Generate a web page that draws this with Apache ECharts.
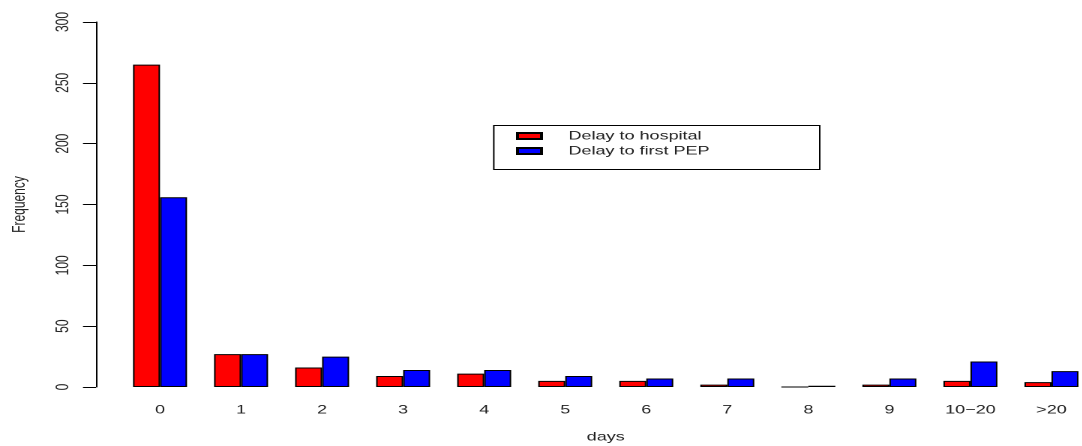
<!DOCTYPE html>
<html><head><meta charset="utf-8">
<script src="https://cdn.jsdelivr.net/npm/echarts@6/dist/echarts.min.js"></script>
<style>
html,body{margin:0;padding:0;background:#fff;overflow:hidden;}
#wrap{width:1082px;height:446px;overflow:hidden;}
#c{width:721.33px;height:446px;transform:scaleX(1.5);transform-origin:0 0;}
</style>
</head><body><div id="wrap"><div id="c"></div></div>
<script>
const categories = ['0','1','2','3','4','5','6','7','8','9','10\u221220','>20'];
const delayHospital = [265, 27, 16, 9, 11, 5, 5, 2, 0, 2, 5, 4];
const delayFirstPEP = [156, 27, 25, 14, 14, 9, 7, 7, 1, 7, 21, 13];
const yTicks = [0, 300, 50];
const seriesNames = ['Delay to hospital', 'Delay to first PEP'];

// The reference image is stretched horizontally (x 1.5); the chart is laid out
// in unstretched coordinates and the container is scaled with CSS.
const font = 'Liberation Sans, Arial, Helvetica, sans-serif';
const chart = echarts.init(document.getElementById('c'), null, { devicePixelRatio: 2 });
chart.setOption({
  animation: false,
  backgroundColor: '#fff',
  textStyle: { fontFamily: font },
  grid: { left: 79.67, right: -7, top: 22, bottom: 59, containLabel: false, outerBoundsMode: 'none' },
  graphic: [{
    type: 'rect', left: 326.7, top: 123,
    shape: { width: 217.3, height: 44 },
    style: { fill: 'none', stroke: '#000', lineWidth: 1 }
  }],
  legend: {
    left: 339, top: 125, orient: 'vertical',
    itemWidth: 16, itemHeight: 6, itemGap: 3,
    icon: 'rect',
    data: seriesNames,
    textStyle: { fontSize: 12, color: '#222', fontFamily: font, padding: [0, 0, 0, 13] }
  },
  xAxis: {
    type: 'category', data: categories,
    axisLine: { show: false }, axisTick: { show: false },
    axisLabel: { fontSize: 12, color: '#222', margin: 17 },
    name: 'days', nameLocation: 'middle', nameGap: 44,
    nameTextStyle: { fontSize: 12, color: '#222' }
  },
  yAxis: {
    type: 'value', min: yTicks[0], max: yTicks[1], interval: yTicks[2],
    offset: 15.67,
    splitLine: { show: false },
    axisLine: { show: true, lineStyle: { color: '#000', width: 1 } },
    axisTick: { show: true, length: 8.67, lineStyle: { color: '#000' } },
    axisLabel: { rotate: 90, fontSize: 12, color: '#222', margin: 16 },
    name: 'Frequency', nameLocation: 'middle', nameGap: 45, nameRotate: 90,
    nameTextStyle: { fontSize: 12, color: '#222' }
  },
  series: [
    { name: seriesNames[0], type: 'bar', data: delayHospital, barWidth: 18, barGap: '0%',
      itemStyle: { color: '#ff0000', borderColor: '#000', borderWidth: 1 } },
    { name: seriesNames[1], type: 'bar', data: delayFirstPEP, barWidth: 18, barGap: '0%',
      itemStyle: { color: '#0000ff', borderColor: '#000', borderWidth: 1 } }
  ]
});
</script></body></html>
